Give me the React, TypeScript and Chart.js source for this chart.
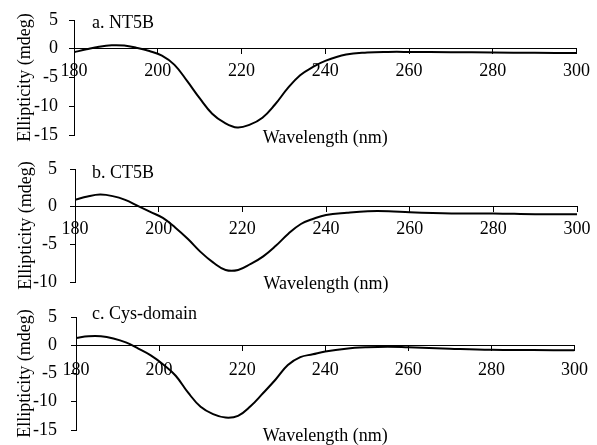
import React, { useEffect, useRef } from "react";
import { Chart, registerables } from "chart.js";

Chart.register(...registerables);

// ---- data ----
const wavelengths = [180, 183, 186, 189, 192, 195, 198, 201, 204, 207, 210, 213, 216, 219, 222, 225, 228, 231, 234, 237, 240, 245, 250, 255, 260, 270, 280, 290, 300];
const nt5b = [-0.6, -0.1, 0.35, 0.6, 0.55, 0.15, -0.4, -1.2, -2.8, -5.6, -8.6, -11.3, -12.9, -13.7, -13.2, -12.0, -9.7, -6.9, -4.6, -3.2, -2.1, -1.0, -0.65, -0.55, -0.55, -0.6, -0.65, -0.7, -0.75];
const ct5b = [0.9, 1.35, 1.6, 1.4, 0.9, 0.1, -0.7, -1.5, -2.8, -4.3, -6.0, -7.4, -8.4, -8.4, -7.6, -6.6, -5.2, -3.6, -2.3, -1.6, -1.1, -0.8, -0.6, -0.6, -0.75, -0.9, -0.9, -1.0, -1.0];
const cysDomain = [1.3, 1.6, 1.6, 1.2, 0.5, -0.6, -1.8, -3.4, -5.4, -8.4, -10.9, -12.2, -12.8, -12.5, -10.8, -8.5, -6.1, -3.5, -2.1, -1.6, -1.1, -0.6, -0.35, -0.25, -0.35, -0.6, -0.8, -0.85, -0.9];

const xTicks = [180, 200, 220, 240, 260, 280, 300];
const yTicksA = [-15, -10, -5, 0, 5];
const yTicksB = [-10, -5, 0, 5];
const yTicksC = [-15, -10, -5, 0, 5];

const panelLabels = ["a. NT5B", "b. CT5B", "c. Cys-domain"];
const xTitle = "Wavelength (nm)";
const yTitle = "Ellipticity (mdeg)";

const FONT = '"Liberation Serif", "Times New Roman", serif';
const FS = 18;

const panelLabelPlugin = {
  id: "panelLabel",
  afterDraw(chart: any, _args: any, opts: any) {
    const ctx = chart.ctx;
    ctx.save();
    ctx.font = `${FS}px ${FONT}`;
    ctx.fillStyle = "#000";
    ctx.textBaseline = "alphabetic";
    ctx.textAlign = "left";
    ctx.fillText(opts.text, opts.x, chart.chartArea.top + opts.dy);
    ctx.restore();
  },
};

type PanelProps = {
  values: number[];
  yTicks: number[];
  label: string;
  top: number;
  height: number;
  padTop: number;
  padRight: number;
  axisW: number;
  yTickPad: number;
  xTickPad: number;
  x2H: number;
  x2pb: number;
  labelDy: number;
  yTitlePad: number;
};

function Panel(p: PanelProps) {
  const ref = useRef<HTMLCanvasElement | null>(null);
  useEffect(() => {
    if (!ref.current) return;
    const yMin = Math.min(...p.yTicks);
    const yMax = Math.max(...p.yTicks);
    const chart = new Chart(ref.current, {
      type: "line",
      data: {
        datasets: [
          {
            data: wavelengths.map((w, i) => ({ x: w, y: p.values[i] })),
            borderColor: "#000",
            borderWidth: 2,
            pointRadius: 0,
            fill: false,
            tension: 0.4,
            xAxisID: "x",
            yAxisID: "y",
          },
        ],
      },
      options: {
        animation: false,
        responsive: false,
        devicePixelRatio: 1,
        layout: { padding: { top: p.padTop, right: p.padRight, left: 0, bottom: 0 } },
        plugins: {
          legend: { display: false },
          tooltip: { enabled: false },
          title: { display: false },
          panelLabel: { text: p.label, x: 92, dy: p.labelDy },
        } as any,
        scales: {
          x: {
            type: "linear",
            axis: "x",
            position: { y: 0 } as any,
            min: 180,
            max: 300,
            afterBuildTicks: (s: any) => {
              s.ticks = xTicks.map((v) => ({ value: v }));
            },
            grid: { drawOnChartArea: false, drawTicks: true, tickLength: 5, color: "#000", lineWidth: 1 },
            border: { display: true, color: "#000", width: 1 },
            ticks: { color: "#000", font: { family: FONT, size: FS }, padding: p.xTickPad, maxRotation: 0 },
          },
          x2: {
            type: "linear",
            axis: "x",
            position: "bottom",
            min: 180,
            max: 300,
            grid: { display: false, drawTicks: false },
            border: { display: false },
            ticks: { display: false },
            title: {
              display: true,
              text: xTitle,
              color: "#000",
              font: { family: FONT, size: FS },
              padding: { top: 0, bottom: p.x2pb },
            },
            afterFit: (s: any) => {
              s.height = p.x2H;
            },
          },
          y: {
            type: "linear",
            position: "left",
            min: yMin,
            max: yMax,
            afterBuildTicks: (s: any) => {
              s.ticks = p.yTicks.map((v) => ({ value: v }));
            },
            afterFit: (s: any) => {
              s.width = p.axisW;
              s.paddingTop = 0;
              s.paddingBottom = 0;
            },
            grid: { drawOnChartArea: false, drawTicks: true, tickLength: 5, color: "#000", lineWidth: 1 },
            border: { display: true, color: "#000", width: 1 },
            ticks: { color: "#000", font: { family: FONT, size: FS }, padding: p.yTickPad },
            title: {
              display: true,
              text: yTitle,
              color: "#000",
              font: { family: FONT, size: FS },
              padding: { top: p.yTitlePad, bottom: 0 },
            },
          },
        },
      },
      plugins: [panelLabelPlugin],
    } as any);
    return () => chart.destroy();
  }, []);
  return (
    <canvas
      ref={ref}
      width={597}
      height={p.height}
      style={{ position: "absolute", left: 0, top: p.top, width: 597, height: p.height }}
    />
  );
}

export default function App() {
  return (
    <div style={{ position: "absolute", left: 0, top: 0, width: 597, height: 445, background: "#fff", overflow: "hidden" }}>
      <Panel values={nt5b} yTicks={yTicksA} label={panelLabels[0]} top={0} height={150} padTop={20} padRight={20} axisW={74} yTickPad={11} xTickPad={7} x2H={15} x2pb={1.2} labelDy={8} yTitlePad={14} />
      <Panel values={ct5b} yTicks={yTicksB} label={panelLabels[1]} top={150} height={150} padTop={19} padRight={16} axisW={75} yTickPad={13} xTickPad={6.5} x2H={18} x2pb={5.2} labelDy={9} yTitlePad={15} />
      <Panel values={cysDomain} yTicks={yTicksC} label={panelLabels[2]} top={300} height={147} padTop={17} padRight={16} axisW={76} yTickPad={14} xTickPad={9} x2H={17} x2pb={0.2} labelDy={2} yTitlePad={14} />
    </div>
  );
}
